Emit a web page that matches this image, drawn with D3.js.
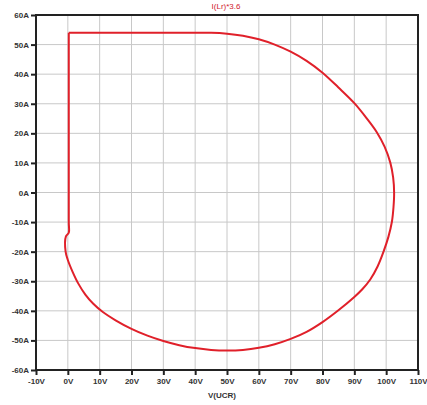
<!DOCTYPE html>
<html>
<head>
<meta charset="utf-8">
<script src="https://cdn.jsdelivr.net/npm/d3@7"></script>
<style>
  body { margin: 0; background: #fff; }
  text { font-family: "Liberation Sans", Arial, sans-serif; }
</style>
</head>
<body>
<div id="wrapper"></div>
<script>
// curve points (V(UCR), I(Lr)*3.6)
const volts = [0.3, 3, 10, 20, 30, 40, 45, 50, 55, 60, 65, 70, 75, 80, 85, 90, 94, 97.1, 99.5, 101.3, 102.2, 102.5, 102.3, 101.8, 100.7, 99.2, 97.3, 95, 92.5, 90, 85, 80, 75, 70, 65, 60, 55, 50, 45, 40, 35, 30, 25, 20, 15, 11, 8, 5.5, 3.3, 1.5, 0, -0.7, -0.6, 0.3, 0.3, 0.3, 0.3];
const amps = [54, 54, 54, 54, 54, 54, 54, 53.7, 53, 51.8, 50, 47.6, 44.5, 40.5, 35.5, 30.2, 24.9, 20.3, 15.5, 10.1, 5, 0, -5, -9.9, -15, -19.9, -25, -29.4, -32.7, -35.3, -39.8, -43.8, -47.1, -49.5, -51.3, -52.5, -53.2, -53.4, -53.2, -52.6, -51.6, -50.2, -48.4, -46.1, -43.2, -40.4, -37.6, -34.5, -30.8, -26.8, -22.8, -20, -14.8, -13.6, -10, 50, 54];

const xTicks = [-10, 0, 10, 20, 30, 40, 50, 60, 70, 80, 90, 100, 110];
const yTicks = [60, 50, 40, 30, 20, 10, 0, -10, -20, -30, -40, -50, -60];

const width = 427, height = 405;
const svg = d3.select('#wrapper').append('svg').attr('width', width).attr('height', height);

const x = d3.scaleLinear().domain([-10, 110]).range([36, 418]);
const y = d3.scaleLinear().domain([-60, 60]).range([370, 15]);

// grid
svg.append('g').selectAll('line').data(xTicks).enter().append('line')
  .attr('x1', d => x(d)).attr('x2', d => x(d))
  .attr('y1', y(60)).attr('y2', y(-60))
  .attr('stroke', '#c8c8c8').attr('stroke-width', 1);
svg.append('g').selectAll('line').data(yTicks).enter().append('line')
  .attr('x1', x(-10)).attr('x2', x(110))
  .attr('y1', d => y(d)).attr('y2', d => y(d))
  .attr('stroke', '#c8c8c8').attr('stroke-width', 1);

// axes
const xAxis = svg.append('g').attr('transform', `translate(0,${y(-60)})`)
  .call(d3.axisBottom(x).tickValues(xTicks).tickSize(5).tickPadding(3).tickFormat(d => d + 'V'));
const yAxis = svg.append('g').attr('transform', `translate(${x(-10)},0)`)
  .call(d3.axisLeft(y).tickValues(yTicks).tickSize(5).tickPadding(2).tickFormat(d => d + 'A'));
[xAxis, yAxis].forEach(a => {
  a.select('.domain').remove();
  a.selectAll('line').attr('stroke', '#222').attr('stroke-width', 2);
  a.selectAll('text').attr('fill', '#333').attr('font-size', 8).attr('font-weight', 'bold');
});

// frame
svg.append('rect')
  .attr('x', x(-10)).attr('y', y(60))
  .attr('width', x(110) - x(-10)).attr('height', y(-60) - y(60))
  .attr('fill', 'none').attr('stroke', '#222').attr('stroke-width', 2);

// curve
const line = d3.line()
  .x((d, i) => x(volts[i]))
  .y((d, i) => y(amps[i]))
  .curve(d3.curveCatmullRom.alpha(0.5));
svg.append('path')
  .datum(volts)
  .attr('d', line)
  .attr('fill', 'none')
  .attr('stroke', '#e0202a')
  .attr('stroke-width', 2)
  .attr('stroke-linejoin', 'round');

// labels
svg.append('text').attr('x', 226).attr('y', 9).attr('text-anchor', 'middle')
  .attr('font-size', 8).attr('fill', '#d02030').text('I(Lr)*3.6');
svg.append('text').attr('x', 222).attr('y', 398).attr('text-anchor', 'middle')
  .attr('font-size', 8).attr('font-weight', 'bold').attr('fill', '#333').text('V(UCR)');
</script>
</body>
</html>
